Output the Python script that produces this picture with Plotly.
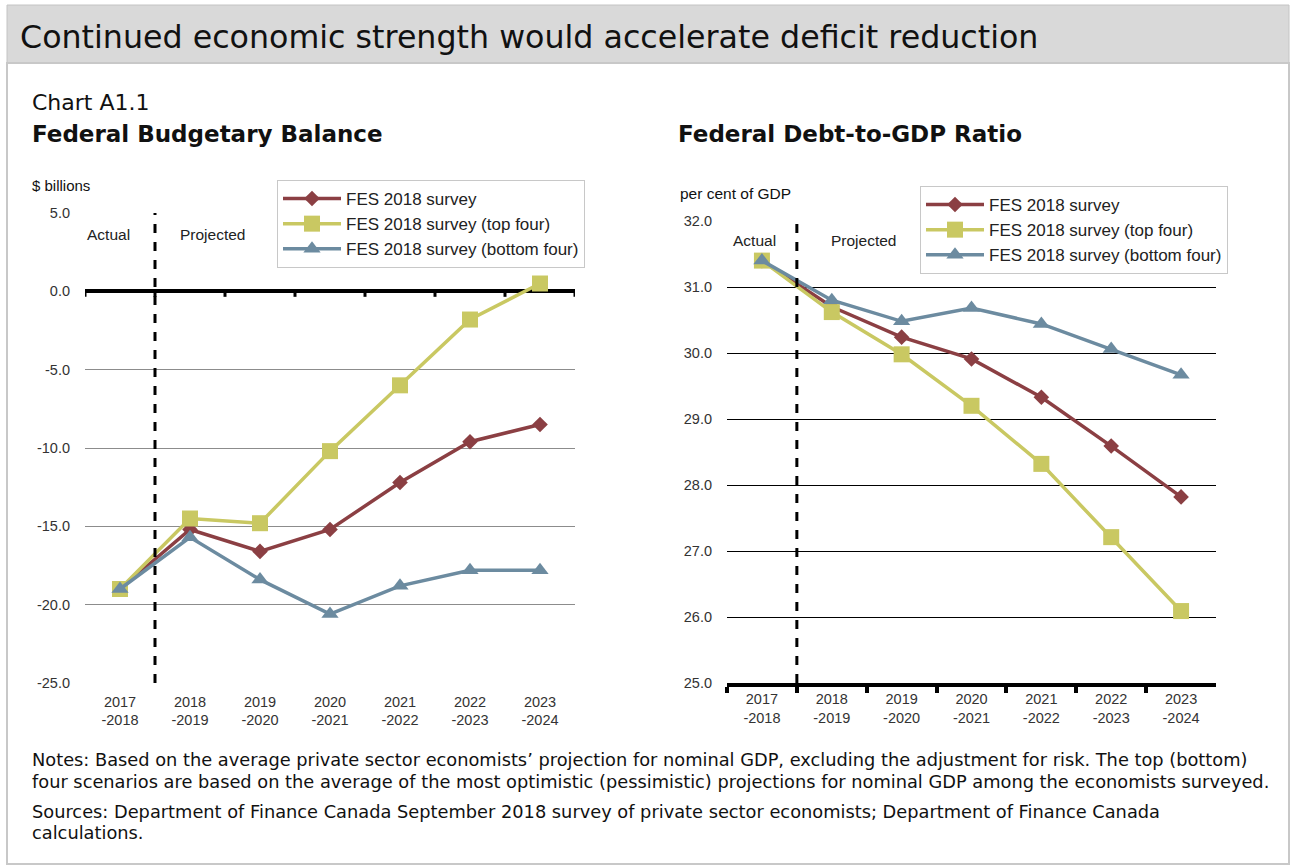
import plotly.graph_objects as go

# ---- data ----
years = ["2017<br>-2018", "2018<br>-2019", "2019<br>-2020", "2020<br>-2021",
         "2021<br>-2022", "2022<br>-2023", "2023<br>-2024"]

series_names = ["FES 2018 survey", "FES 2018 survey (top four)", "FES 2018 survey (bottom four)"]

balance_fes = [-19.0, -15.2, -16.6, -15.2, -12.2, -9.6, -8.5]
balance_top = [-19.0, -14.5, -14.8, -10.2, -6.0, -1.8, 0.5]
balance_bottom = [-19.0, -15.7, -18.4, -20.6, -18.8, -17.8, -17.8]

debt_fes = [31.4, 30.7, 30.24, 29.91, 29.33, 28.59, 27.82]
debt_top = [31.4, 30.62, 29.98, 29.2, 28.32, 27.21, 26.09]
debt_bottom = [31.4, 30.8, 30.48, 30.68, 30.44, 30.06, 29.67]

bal_ticks = [5, 0, -5, -10, -15, -20, -25]
bal_ticktext = ["5.0", "0.0", "-5.0", "-10.0", "-15.0", "-20.0", "-25.0"]
debt_ticks = [32, 31, 30, 29, 28, 27, 26, 25]
debt_ticktext = ["32.0", "31.0", "30.0", "29.0", "28.0", "27.0", "26.0", "25.0"]

colors = ["#8B3F43", "#C9C862", "#6C8BA0"]
symbols = ["diamond", "square", "triangle-up"]
msizes = [12, 16, 15]

W, H = 1291, 867
FONT = "DejaVu Sans"
AX_FONT = "Liberation Sans"


def px(x):
    return x / W


def py(y):
    return 1 - y / H


fig = go.Figure()

for i, (vals, name) in enumerate(zip([balance_fes, balance_top, balance_bottom], series_names)):
    fig.add_trace(go.Scatter(
        x=years, y=vals, name=name, mode="lines+markers",
        line=dict(color=colors[i], width=3.5),
        marker=dict(symbol=symbols[i], size=msizes[i], color=colors[i]),
        xaxis="x", yaxis="y", legend="legend"))

for i, (vals, name) in enumerate(zip([debt_fes, debt_top, debt_bottom], series_names)):
    fig.add_trace(go.Scatter(
        x=years, y=vals, name=name, mode="lines+markers",
        line=dict(color=colors[i], width=3.5),
        marker=dict(symbol=symbols[i], size=msizes[i], color=colors[i]),
        xaxis="x2", yaxis="y2", legend="legend2"))

tickfont = dict(family=AX_FONT, size=14.5, color="#333")
legfont = dict(family=AX_FONT, size=17, color="#222")

fig.update_layout(
    width=W, height=H,
    margin=dict(l=0, r=0, t=0, b=0, autoexpand=False),
    paper_bgcolor="white", plot_bgcolor="white",
    xaxis=dict(domain=[px(85), px(575)], anchor="y", range=[-0.5, 6.5], automargin=False,
               showgrid=False, showline=False, ticks="", tickfont=tickfont, ticklabelstandoff=8),
    yaxis=dict(domain=[py(683), py(213)], anchor="x", range=[-25, 5], automargin=False,
               tickvals=bal_ticks, ticktext=bal_ticktext, tickfont=tickfont,
               showgrid=True, gridcolor="#8C8C8C", gridwidth=1,
               zeroline=True, zerolinecolor="black", zerolinewidth=4,
               showline=False, ticks="", ticklabelstandoff=14),
    xaxis2=dict(domain=[px(727), px(1216)], anchor="y2", range=[-0.5, 6.5], automargin=False,
                showgrid=False, showline=True, linecolor="black", linewidth=4,
                ticks="outside", tickson="boundaries", ticklen=6, tickwidth=4,
                tickcolor="black", tickfont=tickfont),
    yaxis2=dict(domain=[py(683), py(221)], anchor="x2", range=[25, 32], automargin=False,
                tickvals=debt_ticks, ticktext=debt_ticktext, tickfont=tickfont,
                showgrid=True, gridcolor="black", gridwidth=1,
                zeroline=False, showline=False, ticks="", ticklabelstandoff=14),
    legend=dict(x=px(277), y=py(180), xanchor="left", yanchor="top",
                bgcolor="white", bordercolor="#C8C8C8", borderwidth=1,
                font=legfont, tracegroupgap=0, itemwidth=58),
    legend2=dict(x=px(920), y=py(186), xanchor="left", yanchor="top",
                 bgcolor="white", bordercolor="#C8C8C8", borderwidth=1,
                 font=legfont, tracegroupgap=0, itemwidth=58),
    showlegend=True,
)

shapes = [
    # title bar
    dict(type="rect", xref="paper", yref="paper", x0=px(7), x1=px(1289), y0=py(63), y1=py(5),
         fillcolor="#D9D9D9", line=dict(color="#C4C4C4", width=1), layer="below"),
    # frame
    dict(type="rect", xref="paper", yref="paper", x0=px(7), x1=px(1289), y0=py(864), y1=py(63),
         fillcolor="rgba(0,0,0,0)", line=dict(color="#C8C8C8", width=2), layer="below"),
    # actual / projected dividers
    dict(type="line", xref="x", yref="y", x0=0.5, x1=0.5, y0=-25, y1=5,
         line=dict(color="black", width=3, dash="dash")),
    dict(type="line", xref="x2", yref="y2", x0=0.5, x1=0.5, y0=25, y1=32,
         line=dict(color="black", width=3, dash="dash")),
]
# small ticks on the zero line of the balance chart
for b in [k - 0.5 for k in range(len(years) + 1)]:
    shapes.append(dict(type="line", xref="x", yref="y", x0=b, x1=b, y0=0, y1=-0.35,
                       line=dict(color="black", width=3)))
fig.update_layout(shapes=shapes)

ann = []


def text(x, y, s, size, bold=False, family=FONT, color="#111", xanchor="left"):
    ann.append(dict(xref="paper", yref="paper", x=px(x), y=py(y), text="<b>%s</b>" % s if bold else s,
                    showarrow=False, xanchor=xanchor, yanchor="middle",
                    font=dict(family=family, size=size, color=color)))


text(18, 37, "Continued economic strength would accelerate deficit reduction", 31.7)
text(30, 103, "Chart A1.1", 22)
text(30, 134, "Federal Budgetary Balance", 23, bold=True)
text(676, 134, "Federal Debt-to-GDP Ratio", 23, bold=True)
text(30, 186, "$ billions", 15, family=AX_FONT)
text(678, 194, "per cent of GDP", 15.5, family=AX_FONT)
text(85, 234, "Actual", 15.5, family=AX_FONT, color="#222")
text(178, 234, "Projected", 15.5, family=AX_FONT, color="#222")
text(731, 241, "Actual", 15.5, family=AX_FONT, color="#222")
text(829, 241, "Projected", 15.5, family=AX_FONT, color="#222")
text(30, 759, "Notes: Based on the average private sector economists\u2019 projection for nominal GDP, excluding the adjustment for risk. The top (bottom)", 17.8)
text(30, 781, "four scenarios are based on the average of the most optimistic (pessimistic) projections for nominal GDP among the economists surveyed.", 17.8)
text(30, 811, "Sources: Department of Finance Canada September 2018 survey of private sector economists; Department of Finance Canada", 17.8)
text(30, 832, "calculations.", 17.8)
fig.update_layout(annotations=ann)

page_fix = """
document.documentElement.style.cssText='margin:0;padding:0;overflow:hidden;';
document.body.style.cssText='margin:0;padding:0;overflow:hidden;';
var gd = document.getElementById('{plot_id}');
gd.style.position='absolute'; gd.style.top='0px'; gd.style.left='0px';
"""
fig.write_html("out.html", config={"displayModeBar": False}, post_script=page_fix)
